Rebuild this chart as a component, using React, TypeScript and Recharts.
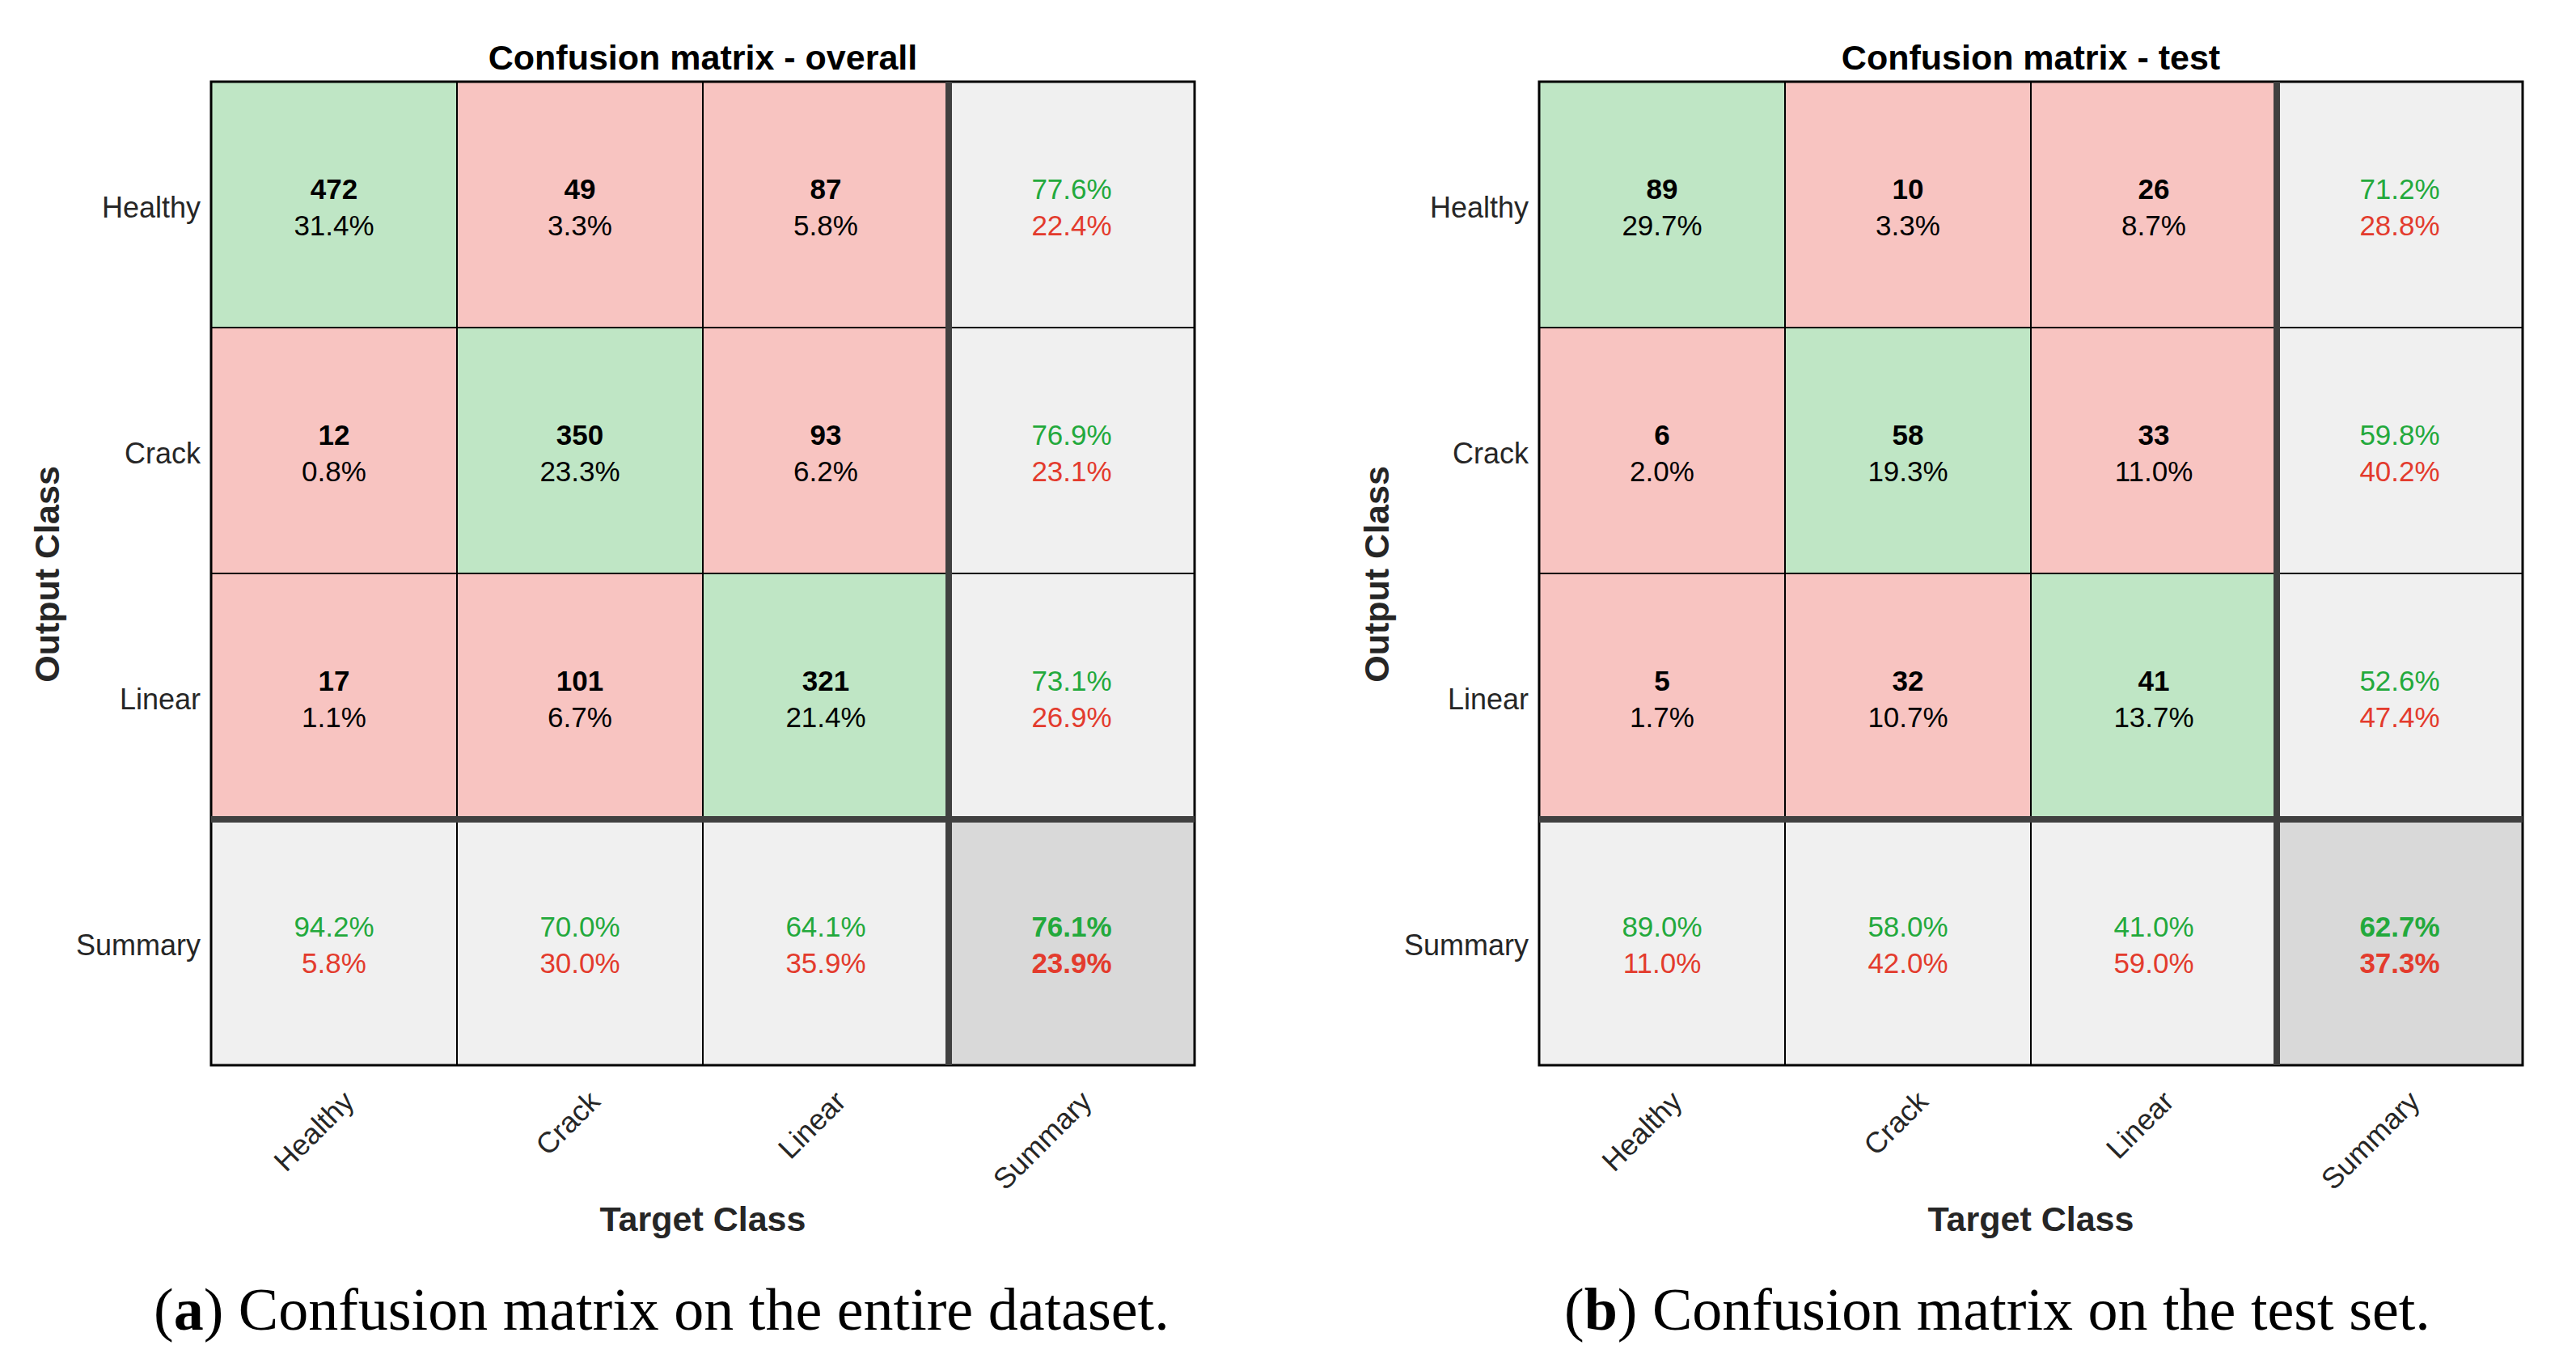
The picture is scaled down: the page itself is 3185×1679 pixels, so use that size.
import React from 'react';
import { ScatterChart, Scatter, XAxis, YAxis, ReferenceArea, ReferenceLine } from 'recharts';

const classes = ['Healthy', 'Crack', 'Linear'];
const axisTicks = ['Healthy', 'Crack', 'Linear', 'Summary'];

const overallCounts = [[472, 49, 87], [12, 350, 93], [17, 101, 321]];
const overallShares = [[31.4, 3.3, 5.8], [0.8, 23.3, 6.2], [1.1, 6.7, 21.4]];
const overallRowRight = [77.6, 76.9, 73.1];
const overallRowWrong = [22.4, 23.1, 26.9];
const overallColRight = [94.2, 70.0, 64.1];
const overallColWrong = [5.8, 30.0, 35.9];
const overallTotal = [76.1, 23.9];

const testCounts = [[89, 10, 26], [6, 58, 33], [5, 32, 41]];
const testShares = [[29.7, 3.3, 8.7], [2.0, 19.3, 11.0], [1.7, 10.7, 13.7]];
const testRowRight = [71.2, 59.8, 52.6];
const testRowWrong = [28.8, 40.2, 47.4];
const testColRight = [89.0, 58.0, 41.0];
const testColWrong = [11.0, 42.0, 59.0];
const testTotal = [62.7, 37.3];

const SANS = '"Liberation Sans", Arial, Helvetica, sans-serif';
const SERIF = '"Liberation Serif", "Times New Roman", serif';
const GREEN_FILL = '#BFE6C5';
const RED_FILL = '#F8C4C1';
const GRAY_FILL = '#F0F0F0';
const CORNER_FILL = '#D9D9D9';
const GREEN_TEXT = '#23A93C';
const RED_TEXT = '#E33B2D';
const TICK_TEXT = '#262626';

type Cell = {
  x: number;
  y: number;
  top: string;
  bottom: string;
  kind: 'diag' | 'off' | 'summary' | 'total';
};

const pct = (v: number) => `${v.toFixed(1)}%`;

function buildCells(
  counts: number[][],
  shares: number[][],
  rowR: number[],
  rowW: number[],
  colR: number[],
  colW: number[],
  total: number[]
): Cell[] {
  const cells: Cell[] = [];
  const n = classes.length;
  for (let r = 0; r < n; r++) {
    for (let c = 0; c < n; c++) {
      cells.push({
        x: c + 0.5,
        y: r + 0.5,
        top: String(counts[r][c]),
        bottom: pct(shares[r][c]),
        kind: r === c ? 'diag' : 'off',
      });
    }
    cells.push({ x: n + 0.5, y: r + 0.5, top: pct(rowR[r]), bottom: pct(rowW[r]), kind: 'summary' });
  }
  for (let c = 0; c < n; c++) {
    cells.push({ x: c + 0.5, y: n + 0.5, top: pct(colR[c]), bottom: pct(colW[c]), kind: 'summary' });
  }
  cells.push({ x: n + 0.5, y: n + 0.5, top: pct(total[0]), bottom: pct(total[1]), kind: 'total' });
  return cells;
}

const fillFor = (k: Cell['kind']) =>
  k === 'diag' ? GREEN_FILL : k === 'off' ? RED_FILL : k === 'summary' ? GRAY_FILL : CORNER_FILL;

const CellText = (props: any) => {
  const { cx, cy, payload } = props;
  if (cx == null || cy == null || !payload) return null;
  const k: Cell['kind'] = payload.kind;
  const isMatrix = k === 'diag' || k === 'off';
  const topColor = isMatrix ? '#000' : GREEN_TEXT;
  const bottomColor = isMatrix ? '#000' : RED_TEXT;
  const topWeight = isMatrix || k === 'total' ? 'bold' : 'normal';
  const bottomWeight = k === 'total' ? 'bold' : 'normal';
  return (
    <g>
      <text x={cx} y={cy - 7.5} textAnchor="middle" fontFamily={SANS} fontSize={35} fontWeight={topWeight} fill={topColor}>
        {payload.top}
      </text>
      <text x={cx} y={cy + 37.5} textAnchor="middle" fontFamily={SANS} fontSize={35} fontWeight={bottomWeight} fill={bottomColor}>
        {payload.bottom}
      </text>
    </g>
  );
};

const XTick = (props: any) => {
  const { x, y, payload } = props;
  const label = axisTicks[Math.floor(payload.value)];
  return (
    <g transform={`translate(${x + 27},${y + 47})`}>
      <text textAnchor="end" transform="rotate(-45)" fontFamily={SANS} fontSize={36} fill={TICK_TEXT}>
        {label}
      </text>
    </g>
  );
};

const YTick = (props: any) => {
  const { x, y, payload } = props;
  const label = axisTicks[Math.floor(payload.value)];
  return (
    <text x={x - 13} y={y + 16} textAnchor="end" fontFamily={SANS} fontSize={36} fill={TICK_TEXT}>
      {label}
    </text>
  );
};

const tickPositions = axisTicks.map((_, i) => i + 0.5);

const Matrix = ({ cells, left }: { cells: Cell[]; left: number }) => {
  const n = classes.length;
  return (
    <div style={{ position: 'absolute', left, top: 0, width: 1560, height: 1679 }}>
      <ScatterChart width={1560} height={1679} margin={{ top: 101, right: 83, bottom: 262, left: 61 }}>
        <XAxis
          type="number"
          dataKey="x"
          domain={[0, n + 1]}
          ticks={tickPositions}
          tick={<XTick />}
          axisLine={false}
          tickLine={false}
          tickSize={0}
          tickMargin={0}
          height={100}
          allowDataOverflow
          interval={0}
        />
        <YAxis
          type="number"
          dataKey="y"
          domain={[0, n + 1]}
          ticks={tickPositions}
          tick={<YTick />}
          axisLine={false}
          tickLine={false}
          tickSize={0}
          tickMargin={0}
          width={200}
          reversed
          allowDataOverflow
          interval={0}
        />
        {cells.map((c, i) => (
          <ReferenceArea
            key={`a${i}`}
            x1={c.x - 0.5}
            x2={c.x + 0.5}
            y1={c.y - 0.5}
            y2={c.y + 0.5}
            fill={fillFor(c.kind)}
            fillOpacity={1}
            stroke="#000"
            strokeWidth={2}
            ifOverflow="visible"
          />
        ))}
        <ReferenceArea x1={0} x2={n + 1} y1={0} y2={n + 1} fill="none" fillOpacity={0} stroke="#000" strokeWidth={3} ifOverflow="visible" />
        <ReferenceLine x={n} stroke="#404040" strokeWidth={8} ifOverflow="visible" />
        <ReferenceLine y={n} stroke="#404040" strokeWidth={8} ifOverflow="visible" />
        <Scatter data={cells} shape={<CellText />} isAnimationActive={false} />
      </ScatterChart>
    </div>
  );
};

const overallCells = buildCells(overallCounts, overallShares, overallRowRight, overallRowWrong, overallColRight, overallColWrong, overallTotal);
const testCells = buildCells(testCounts, testShares, testRowRight, testRowWrong, testColRight, testColWrong, testTotal);

export default function App() {
  return (
    <div style={{ position: 'absolute', left: 0, top: 0, width: 3185, height: 1679, background: '#fff', overflow: 'hidden' }}>
      <Matrix cells={overallCells} left={0} />
      <Matrix cells={testCells} left={1642} />
      <svg width={3185} height={1679} style={{ position: 'absolute', left: 0, top: 0, pointerEvents: 'none' }}>
        <text x={869} y={86} textAnchor="middle" fontFamily={SANS} fontSize={43} fontWeight="bold" fill="#000">
          Confusion matrix - overall
        </text>
        <text x={2511} y={86} textAnchor="middle" fontFamily={SANS} fontSize={43} fontWeight="bold" fill="#000">
          Confusion matrix - test
        </text>
        <text transform="translate(73,710) rotate(-90)" textAnchor="middle" fontFamily={SANS} fontSize={43} fontWeight="bold" fill={TICK_TEXT}>
          Output Class
        </text>
        <text transform="translate(1717,710) rotate(-90)" textAnchor="middle" fontFamily={SANS} fontSize={43} fontWeight="bold" fill={TICK_TEXT}>
          Output Class
        </text>
        <text x={869} y={1522} textAnchor="middle" fontFamily={SANS} fontSize={43} fontWeight="bold" fill={TICK_TEXT}>
          Target Class
        </text>
        <text x={2511} y={1522} textAnchor="middle" fontFamily={SANS} fontSize={43} fontWeight="bold" fill={TICK_TEXT}>
          Target Class
        </text>
        <text x={190} y={1644} fontFamily={SERIF} fontSize={74} fill="#000">
          (<tspan fontWeight="bold">a</tspan>) Confusion matrix on the entire dataset.
        </text>
        <text x={1934} y={1644} fontFamily={SERIF} fontSize={74} fill="#000">
          (<tspan fontWeight="bold">b</tspan>) Confusion matrix on the test set.
        </text>
      </svg>
    </div>
  );
}
